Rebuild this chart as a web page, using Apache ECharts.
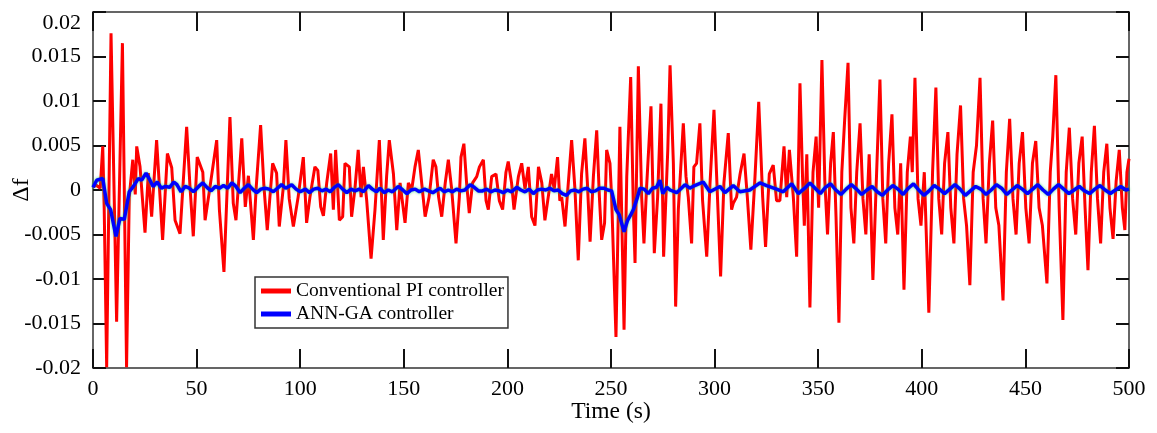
<!DOCTYPE html>
<html>
<head>
<meta charset="utf-8">
<script src="https://cdn.jsdelivr.net/npm/echarts@6/dist/echarts.min.js"></script>
<style>html,body{margin:0;padding:0;background:#fff}#c{width:1157px;height:433px}</style>
</head>
<body>
<div id="c"></div>
<script>
const seriesNames = ['Conventional PI controller', 'ANN-GA controller'];
const xTickLabels = ['0','50','100','150','200','250','300','350','400','450','500'];
const yTickLabels = ['-0.02','-0.015','-0.01','-0.005','0','0.005','0.01','0.015','0.02'];

const piTime = [0,1.8,3.5,4.7,5.4,6.6,8.7,11.4,14.2,16.2,17.5,19.2,20.4,21.1,22.7,25.1,26.7,28.3,30.7,33.6,35.9,38,39.6,42,45.2,46.8,48.4,50.3,53,54.1,56.5,59.7,61,63.2,66.1,67.7,69,71.8,73.5,75,77.4,78.8,80.9,82.5,84.1,86.7,88.6,89.9,91.9,93.1,94.7,96.7,99,101.5,
103.1,104.7,107.1,108.5,109.9,111.2,112.8,114.7,116,117.1,118.9,120.5,121.6,123.7,124.8,126.4,128,129.4,130.5,132.1,134.2,136.1,138.2,139.3,140.1,141.7,143,145,146.6,148.2,150.6,152.2,153.8,155.4,157,160.3,
162.2,164.2,165.5,166.8,168.3,170,171.5,173.1,175.2,176.8,177.6,179,180.3,181.6,183.2,185.2,186.5,188.4,189.7,190.8,192.4,194.5,196.1,197.7,199.3,200.4,202,203.2,205.3,206.9,208.5,210.1,211.7,213.3,215,216.6,218.1,219.7,
221.3,222.6,224.2,225.3,226.2,227.8,229.4,231,232.6,234.2,235.8,237.4,238.6,239.9,241.5,243.1,244.4,245.5,246.9,247.9,249.5,250.3,252.4,254.3,256.3,257.6,259.5,260.8,261.6,263.2,264.8,265.9,267.2,269.3,270.9,272.5,274.1,275.4,277.4,278.5,
280.1,281.2,282.5,284.9,286.2,287.3,288.9,290,291.3,292.9,294.2,296.2,297.8,299.7,301,302.9,304.5,306.6,308.2,309,310.6,312.3,314.2,315.8,317.5,319.5,321.3,323.2,324.6,326.4,328.3,329.9,331.5,333.5,334.8,336.1,338,339.6,
341.2,342.5,343.3,344.5,346,347.5,349,350.2,351.8,353.2,354.5,356,357.3,358.6,360,361.4,362.8,364.4,365.8,367.2,368.6,370.2,371.6,373,374.6,376.4,378.2,379.8,381.2,382.6,384,385.6,387,388.4,389.8,391.4,393,394.5,395.4,396.7,398.2,399.6,401.2,403.4,405.2,406.8,408.2,409.6,411,412.6,414,415.5,417,418.7,420.2,421.6,423.2,424.8,426.4,428.1,429.6,431,432.6,434.2,435.7,437.2,439.2,440.8,442.4,444,445.5,447,448.6,450.2,451.8,453.4,455,456.6,458.2,460.4,462,463.2,464.7,466.3,468.1,469.7,471.2,472.8,474.3,475.8,477.4,478.8,480.2,481.8,483.3,484.8,486.3,487.8,489.3,490.8,492.3,493.8,495.3,496.8,498,499,500];
const piValue = [0.0004,0.0005,0.0002,0.0049,-0.002,-0.0199,0.0176,-0.0148,0.0165,-0.0199,-0.0008,0.0034,-0.0005,0.0049,0.0026,-0.0048,0.0019,-0.003,0.0056,-0.0056,0.0041,0.0025,-0.0034,-0.0049,0.0071,0.0004,-0.0052,0.0037,0.002,-0.0034,0.0004,0.0056,-0.0022,-0.0092,0.0082,-0.0015,-0.0034,0.0058,-0.0019,0.0016,-0.0056,0.0004,0.0073,0.0004,-0.0045,0.003,0.0019,-0.0041,0.0004,0.0056,-0.001,-0.0041,-0.0008,0.0037,
-0.0037,-0.0008,0.0026,0.0022,-0.0019,-0.0029,0.0008,0.0041,-0.0022,0.0045,-0.0034,-0.003,0.003,0.0026,-0.003,0.0001,0.0045,-0.0008,0.0026,-0.0012,-0.0077,-0.0022,0.0056,-0.0008,-0.0056,0.0015,0.0056,0.0018,-0.0045,0.0008,-0.0037,0.0008,0,0.0026,0.0045,-0.003,
-0.0008,0.0034,0.0026,-0.0008,-0.003,0.0008,0.0034,0.0001,-0.006,-0.0008,0.0037,0.0052,0.0008,-0.0026,0.0008,0.0015,0.0026,0.0034,-0.0012,-0.0022,0.0015,0.0018,-0.0012,-0.0022,0.002,0.0032,0.0008,-0.0022,0.0015,0.003,0.0001,0.0026,-0.003,-0.004,0.0026,0.0008,-0.0034,-0.0008,
0.0018,0.0001,0.0037,-0.0012,-0.0008,-0.0041,0.0008,0.0056,0.0001,-0.0079,0.0018,0.0058,0.0008,-0.0058,0.0015,0.0067,-0.0008,-0.0056,-0.0037,0.0045,0.003,-0.0008,-0.0165,0.0071,-0.0157,0.0015,0.0127,-0.0022,-0.0082,0.0139,-0.0008,-0.006,0.0004,0.0094,-0.0071,-0.0008,0.0097,-0.0075,0.0045,0.014,
0.003,-0.0131,-0.0022,0.0075,0.0015,-0.0008,-0.006,0.0026,0.003,0.0075,-0.0012,-0.0075,0.0008,0.009,0.0015,-0.0097,0.0008,0.0064,-0.0022,-0.0015,-0.0008,0.0018,0.0041,-0.0008,-0.0067,0.0015,0.0099,-0.0008,-0.0064,0.0018,0.0028,-0.0012,-0.0012,0.0049,-0.0008,0.0045,-0.0008,-0.0075,
0.012,0.001,-0.004,0.004,-0.0132,0.002,0.006,-0.002,0.0146,0.001,-0.005,0.003,0.0065,-0.003,-0.0149,0.002,0.008,0.0143,-0.002,-0.006,0.002,0.0075,-0.001,-0.005,0.004,-0.0101,0.002,0.0124,-0.001,-0.006,0.003,0.0085,-0.002,-0.005,0.003,-0.0112,0.002,0.006,0.002,0.0126,-0.001,-0.004,0.002,-0.0138,0.002,0.0115,-0.001,-0.005,0.003,0.0065,-0.002,-0.006,0.004,0.0095,-0.001,-0.004,-0.0107,0.002,0.005,0.0126,-0.001,-0.006,0.003,0.0078,-0.002,-0.004,-0.0124,0.002,0.008,-0.001,-0.005,0.003,0.0065,-0.002,-0.006,0.003,0.0055,-0.002,-0.004,-0.0105,0.002,0.006,0.0129,-0.002,-0.0146,0.002,0.007,-0.001,-0.005,0.003,0.006,-0.002,-0.009,0.002,0.0072,-0.001,-0.006,0.002,0.0052,-0.002,-0.0055,0.001,0.0045,-0.002,-0.0045,0.002,0.0035];

const annTime = [0,1.8,4.7,6.6,8.5,11.1,13,15.1,17.5,19.5,21.9,23.5,25.6,27.5,29,31,33,35,37,39,40.5,42.5,44.5,46.5,48.5,51,53,55,57,59,61,63,65,67,69,71,73,75,77,79,81,83,85,87,89,91,93,95.9,98,100,102.5,104.5,106.5,108.5,110.5,112.5,114.5,116.5,118.4,120.5,122.5,124.5,126.5,128.5,130.5,132.9,134.8,136.8,138.5,140.5,142.5,144.5,147.3,149.5,151.5,153.5,155.5,157.5,160,162,164,166,167.5,169.5,171.5,173.5,175.5,177.5,179.5,182,184,186,188,190,192,194,196,198,200,202,204.5,206.5,208.5,210.5,212.5,214.5,216.5,218.5,220.5,222.5,224.5,226.5,228.5,230.5,232.5,234.5,236.5,238.5,240.5,242.5,244.5,246.5,248.5,250.3,252.4,254,256.3,258,259.5,260.8,262.5,264,266,268,270,272,273.6,275,277,278.5,281.7,285.7,288,290.4,294.5,297.7,302.6,305,309,312.2,317,321.9,325.1,329.9,333.1,337.2,340.4,343.5,346,348.5,351,353.5,356,358.5,361,363.5,366,368.5,371,373.5,376,378.5,381,383.5,386,388.5,391,393.5,396,398.5,401,403.5,406,408.5,411,413.5,416,418.5,421,423.5,426,428.5,431,433.5,436,438.5,441,443.5,446,448.5,451,453.5,456,458.5,461,463.5,466,468.5,471,473.5,476,478.5,481,483.5,486,488.5,491,493.5,496,498.5,500];
const annValue = [0.0003,0.0011,0.0013,-0.0015,-0.0022,-0.0052,-0.0032,-0.0033,-0.0002,0.0004,0.0013,0.0011,0.0019,0.0011,0.0004,0.0009,0.0002,0.0004,0.0003,0.0009,0.0006,-0.0002,0.0004,0.0002,-0.0002,0.0004,0.0008,0.0003,-0.0001,0.0004,0.0002,0.0005,0.0002,0.0008,0.0004,-0.0003,0.0002,0.0006,0.0001,-0.0003,0.0001,0.0002,0.0001,-0.0002,0.0002,0.0006,0.0002,0.0006,0.0001,-0.0002,0.0001,-0.0003,0.0001,0.0002,-0.0001,0.0001,-0.0002,0.0003,0.0006,0.0001,-0.0003,0.0001,-0.0001,0.0001,-0.0002,0.0005,0.0001,-0.0002,0.0002,-0.0003,0,-0.0002,0.0004,0,-0.0004,0,0.0001,-0.0002,0.0001,-0.0001,-0.0003,0,0.0002,-0.0002,0,-0.0002,0.0001,-0.0001,0,0.0006,0.0003,-0.0001,-0.0001,0.0001,-0.0002,0,-0.0001,-0.0003,0,-0.0002,0.0003,0,-0.0002,0.0001,-0.0004,0,0.0001,0,0.0002,-0.0001,0,-0.0004,-0.0006,-0.0001,0,-0.0002,0.0001,0.0002,-0.0002,-0.0001,0.0002,0.0002,0,-0.0001,-0.0022,-0.0028,-0.0047,-0.0034,-0.0028,-0.0022,-0.001,0.0002,0.0001,-0.0004,0.0002,0.0003,0.0011,-0.0004,0.0003,0,-0.0003,0.0006,0.0002,0.0005,0.0009,-0.0002,0.0004,-0.0003,0.0005,-0.0002,0,0.0008,0.0005,0.0001,-0.0002,0.0007,-0.0004,0.0002,0.0008,0.0002,-0.0004,0.0003,0.0007,0,-0.0005,0.0001,0.0006,0.0001,-0.0005,0,0.0004,-0.0002,-0.0006,0,0.0005,0.0001,-0.0005,0.0002,0.0007,0,-0.0006,-0.0001,0.0005,0.0001,-0.0004,0.0001,0.0006,0.0001,-0.0006,-0.0001,0.0004,0.0001,-0.0005,0,0.0006,0.0002,-0.0005,0,0.0005,0.0001,-0.0004,0.0001,0.0006,0,-0.0005,0.0001,0.0006,0.0001,-0.0004,0,0.0004,-0.0001,-0.0004,0.0001,0.0005,0,-0.0004,0,0.0004,0,0.0001];

const pair = (ts, vs) => ts.map((t, i) => [t, vs[i]]);
const FONT = 'Liberation Serif';
const axisLineStyle = { color: '#333', width: 1.5 };
const tickStyle = { color: '#111', width: 2 };

const chart = echarts.init(document.getElementById('c'), null, { renderer: 'canvas' });
chart.setOption({
  animation: false,
  backgroundColor: '#fff',
  grid: { left: 93, right: 28, top: 12, bottom: 65, containLabel: false, outerBoundsMode: 'none' },
  legend: {
    left: 255, top: 277,
    orient: 'vertical',
    data: seriesNames,
    icon: 'rect',
    itemWidth: 30, itemHeight: 5,
    itemGap: 3,
    padding: [4, 4, 4, 6],
    borderColor: '#333', borderWidth: 1.5,
    backgroundColor: '#fff',
    textStyle: { fontFamily: FONT, fontSize: 19.5, color: '#000' }
  },
  xAxis: [{
    type: 'value', min: 0, max: 500, interval: 50, position: 'bottom',
    name: 'Time (s)', nameLocation: 'middle', nameGap: 32, nameMoveOverlap: false,
    nameTextStyle: { fontFamily: FONT, fontSize: 23.5, color: '#000' },
    axisLine: { show: true, onZero: false, lineStyle: axisLineStyle },
    axisTick: { show: true, inside: true, length: 19, lineStyle: tickStyle },
    axisLabel: { fontFamily: FONT, fontSize: 22, color: '#000', margin: 10,
      formatter: v => xTickLabels[Math.round(v / 50)] },
    splitLine: { show: false }
  }, {
    type: 'value', min: 0, max: 500, interval: 50, position: 'top',
    axisLine: { show: true, onZero: false, lineStyle: axisLineStyle },
    axisTick: { show: true, inside: true, length: 19, lineStyle: tickStyle },
    axisLabel: { show: false }, splitLine: { show: false }
  }],
  yAxis: [{
    type: 'value', min: -0.02, max: 0.02, interval: 0.005, position: 'left',
    name: 'Δf', nameLocation: 'middle', nameGap: 59, nameRotate: 90, nameMoveOverlap: false,
    nameTextStyle: { fontFamily: FONT, fontSize: 24, color: '#000' },
    axisLine: { show: true, onZero: false, lineStyle: axisLineStyle },
    axisTick: { show: true, inside: true, length: 13, lineStyle: tickStyle },
    axisLabel: { fontFamily: FONT, fontSize: 22, color: '#000', margin: 12,
      verticalAlignMaxLabel: 'top',
      formatter: v => yTickLabels[Math.round((v + 0.02) / 0.005)] },
    splitLine: { show: false }
  }, {
    type: 'value', min: -0.02, max: 0.02, interval: 0.005, position: 'right',
    axisLine: { show: true, onZero: false, lineStyle: axisLineStyle },
    axisTick: { show: true, inside: true, length: 13, lineStyle: tickStyle },
    axisLabel: { show: false }, splitLine: { show: false }
  }],
  series: [{
    name: seriesNames[0], type: 'line', xAxisIndex: 0, yAxisIndex: 0,
    data: pair(piTime, piValue), showSymbol: false, symbol: 'none',
    lineStyle: { color: '#ff0000', width: 3 }, itemStyle: { color: '#ff0000' },
    z: 2
  }, {
    name: seriesNames[1], type: 'line', xAxisIndex: 0, yAxisIndex: 0,
    data: pair(annTime, annValue), showSymbol: false, symbol: 'none',
    lineStyle: { color: '#0000ff', width: 3.5, shadowColor: 'rgba(0,200,80,0.7)', shadowBlur: 3 },
    itemStyle: { color: '#0000ff' },
    z: 3
  }]
});
</script>
</body>
</html>
